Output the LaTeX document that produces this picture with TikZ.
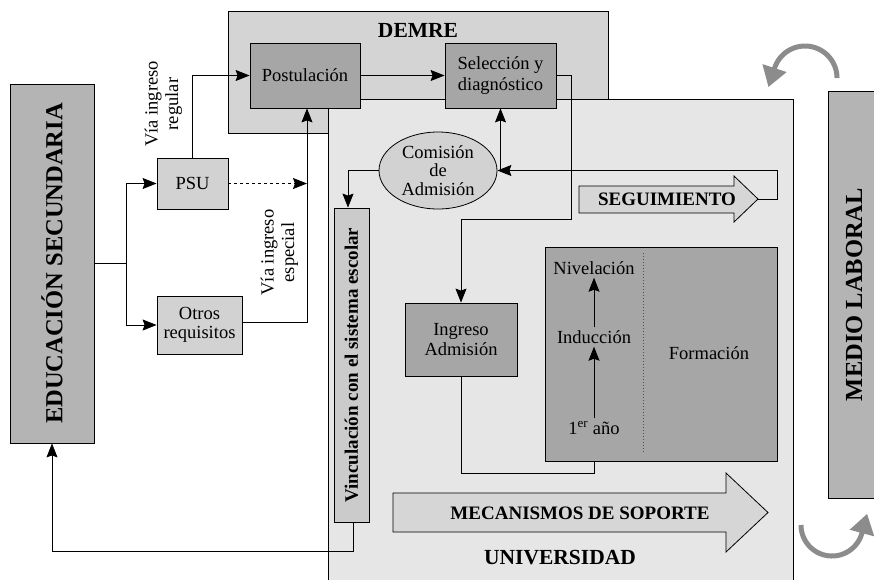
\documentclass[tikz,border=0pt]{standalone}
\usepackage{fontspec}
\setmainfont{Liberation Serif}
\usetikzlibrary{arrows.meta,shapes.geometric,calc}

\definecolor{demrefill}{HTML}{D4D4D4}
\definecolor{univfill}{HTML}{E6E6E6}
\definecolor{darkfill}{HTML}{A6A6A6}
\definecolor{midfill}{HTML}{B4B4B4}
\definecolor{lightfill}{HTML}{D2D2D2}
\definecolor{vincfill}{HTML}{CBCBCB}
\definecolor{arrowfill}{HTML}{D6D6D6}
\definecolor{curvegray}{HTML}{8C8C8C}

\newcommand\dgtxt{\fontsize{18.5}{20.5}\selectfont}
\newcommand\dgtight{\fontsize{18.5}{18.5}\selectfont}
\newcommand\dgbold{\bfseries\fontsize{19}{21}\selectfont}
\newcommand\dgbig{\bfseries\fontsize{24.5}{26}\selectfont}
\newcommand\dghead{\bfseries\fontsize{21.5}{23}\selectfont}

\tikzset{
  panel/.style={draw=black, line width=0.8pt, inner sep=0pt},
  box/.style={panel, align=center, font=\dgtxt},
  lbl/.style={inner sep=0pt, align=center, font=\dgtxt},
  arr/.style={line width=0.8pt, -{Stealth[length=14pt,width=11pt,inset=2pt]}},
  link/.style={line width=0.8pt},
  bigarrow/.style={draw=black, line width=0.8pt, fill=arrowfill},
  turn/.style={draw=curvegray, line width=5pt, -{Triangle[length=20pt,width=24pt]}},
}

\begin{document}
\begin{tikzpicture}[x=1pt,y=-1pt]
\useasboundingbox (0,0) rectangle (874,579);
\clip (0,0) rectangle (874,579);

% background panels
\node[panel, fill=demrefill, minimum width=380pt, minimum height=122pt] (demre) at (418,72) {};
\node[panel, fill=univfill, minimum width=465pt, minimum height=501pt] (univ) at (560.5,349.5) {};
\node[panel, fill=midfill, rotate=90, minimum width=407pt, minimum height=52pt,
      font=\dgbig] (medio) at (854,294.5) {MEDIO LABORAL};
\node[panel, fill=midfill, rotate=90, minimum width=359pt, minimum height=84pt,
      font=\dgbig] (edu) at (52,263.5) {EDUCACIÓN SECUNDARIA};

% circular arrows beside the labour-market block
\draw[turn] plot[domain=0:-162, samples=40, smooth, variable=\t]
      ({805+32*cos(\t)},{78+32*sin(\t)}) -- ++(-6.2,19.0);
\draw[turn] plot[domain=180:15, samples=40, smooth, variable=\t]
      ({832+31*cos(\t)},{525+31*sin(\t)}) -- ++(5.2,-19.3);

% process boxes
\node[box, fill=darkfill, minimum width=110pt, minimum height=65pt] (post) at (305,75.5) {Postulación};
\node[box, fill=darkfill, minimum width=111pt, minimum height=65pt] (sel) at (500.5,75.5) {Selección y\\diagnóstico};
\node[box, fill=lightfill, minimum width=71pt, minimum height=51pt] (psu) at (192.5,183.5) {PSU};
\node[box, fill=lightfill, minimum width=85pt, minimum height=58pt, font=\dgtight] (otros) at (199.5,325) {Otros\\requisitos};
\node[box, ellipse, fill=lightfill, minimum width=118pt, minimum height=77pt, font=\dgtight] (com) at (438,170.5) {Comisión\\de\\Admisión};
\node[box, fill=vincfill, rotate=90, minimum width=314pt, minimum height=35pt, font=\dgbold] (vinc) at (351.5,365) {Vinculación con el sistema escolar};
\node[box, fill=darkfill, minimum width=112pt, minimum height=73pt] (ingreso) at (461,339.5) {Ingreso\\Admisión};
\node[panel, fill=darkfill, minimum width=232pt, minimum height=214pt] (form) at (661,354) {};
\draw[line width=1pt, dotted, black!70] (643,253) -- (643,453);

% broad arrows
\draw[bigarrow] (579,186) -- (734,186) -- (734,176) -- (758,199) -- (734,222) -- (734,213) -- (579,213) -- cycle;
\coordinate (segtip) at (758,199);
\draw[bigarrow] (393,493) -- (726,493) -- (726,473) -- (768,512.5) -- (726,552) -- (726,532) -- (393,532) -- cycle;

% labels
\node[lbl, font=\dghead] (demrelabel) at (418,30) {DEMRE};
\node[lbl, font=\dghead] (univlabel) at (560,558) {UNIVERSIDAD};
\node[lbl, font=\dgbold] (seglabel) at (667,199.5) {SEGUIMIENTO};
\node[lbl, font=\dgbold] (meclabel) at (580,513) {MECANISMOS DE SOPORTE};
\node[lbl, rotate=90] (regular) at (163.5,104) {Vía ingreso\\regular};
\node[lbl, rotate=90] (especial) at (279.5,252.5) {Vía ingreso\\especial};
\node[lbl, inner sep=3pt] (niv) at (594,268) {Nivelación};
\node[lbl, inner sep=3pt] (indu) at (594,337) {Inducción};
\node[lbl, inner sep=3pt] (anio) at (594,428) {1\textsuperscript{er} año};
\node[lbl] (formlabel) at (709,353) {Formación};

% connectors (edu and vinc are rotated: their west anchor is the bottom, east the top)
\coordinate (split) at (126,263.5);
\draw[arr] (edu.south |- split) -- (split) |- (psu.west);
\draw[arr] (split) |- (otros.west);
\draw[arr] (psu.north) |- (post.west);
\coordinate (espbend) at (307,322);
\draw[arr, dashed] (psu.east) -- (psu.east -| espbend);
\draw[arr] (otros.east |- espbend) -- (espbend) -- (espbend |- post.south);
\draw[arr] (post.east) -- (sel.west);
\coordinate (selturn) at (571,219);
\draw[arr] (sel.east) -| (selturn) -| (ingreso.north);
\draw[arr] (sel.south |- com.east) -- (sel.south);
\coordinate (segloop) at (777,199);
\draw[arr] (segtip) -- (segloop) |- (com.east);
\coordinate (comdrop) at (348,170.5);
\draw[arr] (com.west) -- (comdrop) -- (comdrop |- vinc.east);
\coordinate (backrow) at (353,551);
\draw[arr] (backrow |- vinc.west) -- (backrow) -| (edu.west);
\coordinate (ingrow) at (594,473);
\draw[link] (ingreso.south) |- (ingrow) -- (ingrow |- form.south);
\draw[arr] (indu.north) -- (niv.south);
\draw[arr] (anio.north) -- (indu.south);
\end{tikzpicture}
\end{document}
